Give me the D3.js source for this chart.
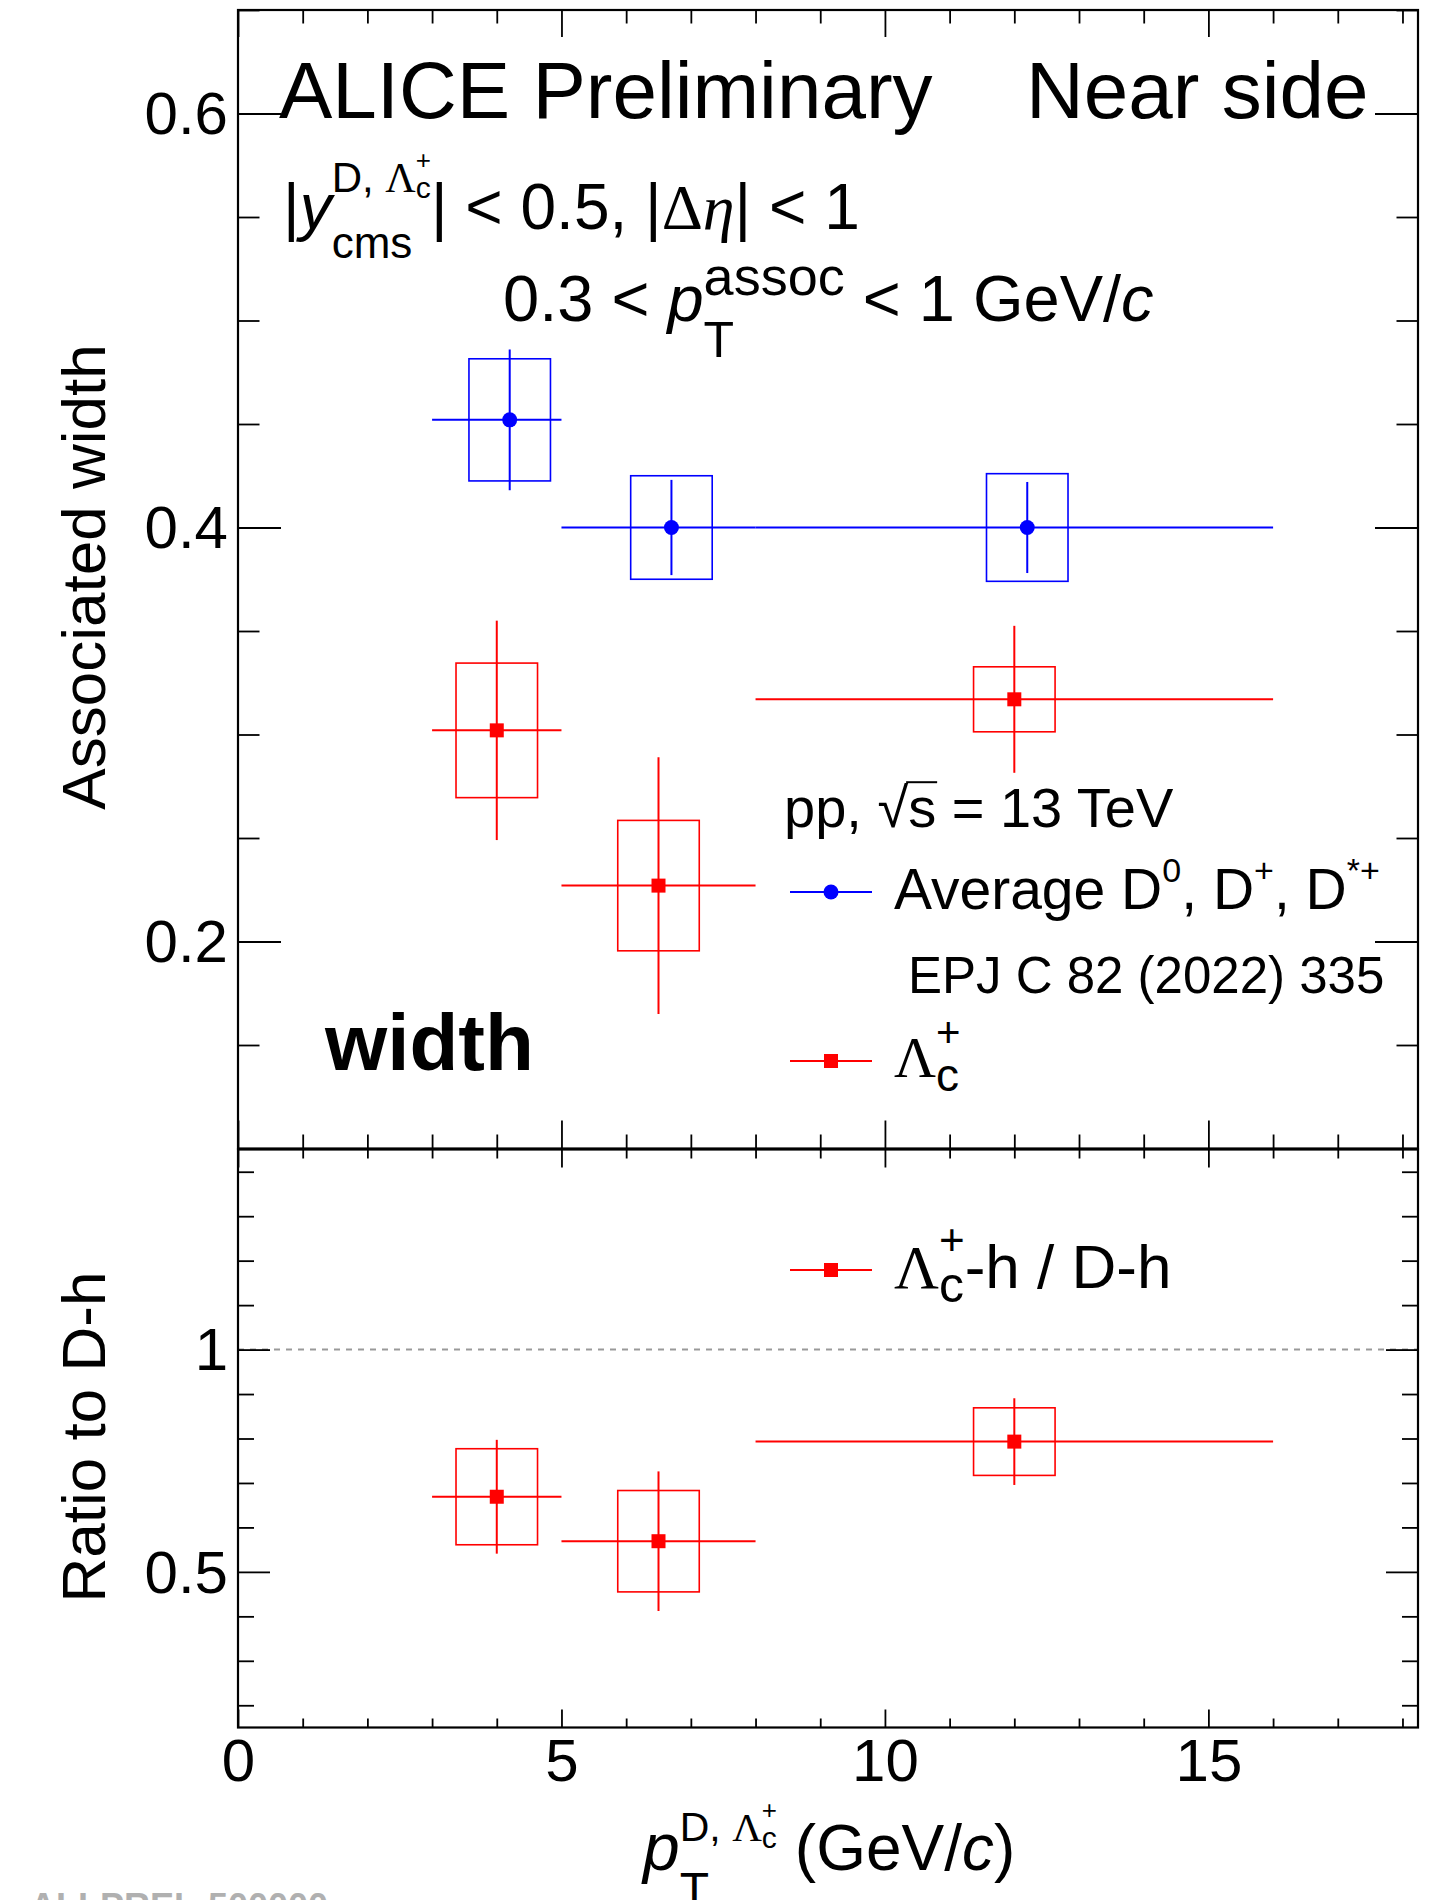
<!DOCTYPE html>
<html>
<head>
<meta charset="utf-8">
<script src="https://cdn.jsdelivr.net/npm/d3@7"></script>
<style>
  body { margin: 0; background: #fff; }
  svg text { white-space: pre; }
</style>
</head>
<body>
<svg id="chart" width="1444" height="1900"></svg>
<script>
// pT bins (GeV/c)
const binLo = [3, 5, 8];
const binHi = [5, 8, 16];

// average D meson, near-side width
const dMesonX = [4.2, 6.7, 12.2];
const dMesonW = [0.452, 0.400, 0.400];
const dMesonStat = [0.034, 0.023, 0.022];
const dMesonSys = [0.0295, 0.025, 0.026];

// Lambda_c, near-side width
const lcX = [4.0, 6.5, 12.0];
const lcW = [0.302, 0.227, 0.317];
const lcStat = [0.053, 0.062, 0.0355];
const lcSys = [0.0325, 0.0315, 0.0157];

// ratio Lc-h / D-h
const ratioX = [4.0, 6.5, 12.0];
const ratioV = [0.669, 0.569, 0.793];
const ratioStat = [0.128, 0.157, 0.0975];
const ratioSys = [0.108, 0.114, 0.076];

const xTicks = [0, 5, 10, 15];
const yTopTicks = [0.2, 0.4, 0.6];
const yBotTicks = [0.5, 1];

const FONT = "'Liberation Sans', Arial, Helvetica, sans-serif";
const SERIF = "'Liberation Serif', 'Times New Roman', serif";
const BLUE = "#0000ff", RED = "#ff0000";
const boxHalf = 0.63; // half width of systematic boxes, in GeV/c

const svg = d3.select("#chart");

const x = d3.scaleLinear().domain([0, 18.24]).range([238, 1418]);
const yTop = d3.scaleLinear().domain([0.1, 0.65]).range([1148.5, 10]);
const yBot = d3.scaleLinear().domain([0.15, 1.45]).range([1727.5, 1149.5]);

const minorX = d3.range(0, 18.2, 1).filter(v => v % 5 !== 0);

function cleanAxis(g) {
  g.select(".domain").remove();
  g.selectAll("line").attr("stroke-width", 1.8);
  g.selectAll("text").attr("font-family", FONT).attr("font-size", 60).attr("fill", "#000");
}

function axes(y, yMajor, yMinor, t) {
  const [yb, yt] = y.range();
  // x ticks, top and bottom edge
  svg.append("g").attr("transform", `translate(0,${yt})`)
    .call(d3.axisTop(x).tickValues(xTicks).tickSize(-t.xTopMaj).tickFormat(""))
    .call(cleanAxis);
  svg.append("g").attr("transform", `translate(0,${yt})`)
    .call(d3.axisTop(x).tickValues(minorX).tickSize(-t.xTopMaj / 2).tickFormat(""))
    .call(cleanAxis);
  svg.append("g").attr("transform", `translate(0,${yb})`)
    .call(d3.axisBottom(x).tickValues(xTicks).tickSize(-t.xBotMaj).tickPadding(11)
      .tickFormat(t.xLabels ? d3.format("d") : ""))
    .call(cleanAxis);
  svg.append("g").attr("transform", `translate(0,${yb})`)
    .call(d3.axisBottom(x).tickValues(minorX).tickSize(-t.xBotMaj / 2).tickFormat(""))
    .call(cleanAxis);
  // y ticks, left and right
  svg.append("g").attr("transform", `translate(${x.range()[0]},0)`)
    .call(d3.axisLeft(y).tickValues(yMajor).tickSize(-t.yMaj).tickPadding(10).tickFormat(d3.format("~g")))
    .call(cleanAxis)
    .selectAll("text").attr("dy", "0.34em");
  svg.append("g").attr("transform", `translate(${x.range()[0]},0)`)
    .call(d3.axisLeft(y).tickValues(yMinor).tickSize(-t.yMaj / 2).tickFormat(""))
    .call(cleanAxis);
  svg.append("g").attr("transform", `translate(${x.range()[1]},0)`)
    .call(d3.axisRight(y).tickValues(yMajor).tickSize(-t.yMaj).tickFormat(""))
    .call(cleanAxis);
  svg.append("g").attr("transform", `translate(${x.range()[1]},0)`)
    .call(d3.axisRight(y).tickValues(yMinor).tickSize(-t.yMaj / 2).tickFormat(""))
    .call(cleanAxis);
  // frame
  svg.append("rect")
    .attr("x", x.range()[0]).attr("y", yt)
    .attr("width", x.range()[1] - x.range()[0]).attr("height", yb - yt)
    .attr("fill", "none").attr("stroke", "#000").attr("stroke-width", 2.2);
}

function points(y, xs, vs, stat, sys, color, marker) {
  const g = svg.append("g");
  const idx = d3.range(xs.length);
  // systematic boxes
  g.selectAll("rect.sys").data(idx).join("rect")
    .attr("x", i => x(xs[i] - boxHalf))
    .attr("width", i => x(xs[i] + boxHalf) - x(xs[i] - boxHalf))
    .attr("y", i => y(vs[i] + sys[i]))
    .attr("height", i => y(vs[i] - sys[i]) - y(vs[i] + sys[i]))
    .attr("fill", "none").attr("stroke", color).attr("stroke-width", 1.6);
  // horizontal bin width
  g.selectAll("line.h").data(idx).join("line")
    .attr("x1", i => x(binLo[i])).attr("x2", i => x(binHi[i]))
    .attr("y1", i => y(vs[i])).attr("y2", i => y(vs[i]))
    .attr("stroke", color).attr("stroke-width", 2);
  // statistical errors
  g.selectAll("line.v").data(idx).join("line")
    .attr("x1", i => x(xs[i])).attr("x2", i => x(xs[i]))
    .attr("y1", i => y(vs[i] + stat[i])).attr("y2", i => y(vs[i] - stat[i]))
    .attr("stroke", color).attr("stroke-width", 2);
  if (marker === "circle") {
    g.selectAll("circle").data(idx).join("circle")
      .attr("cx", i => x(xs[i])).attr("cy", i => y(vs[i])).attr("r", 7.5)
      .attr("fill", color);
  } else {
    g.selectAll("rect.m").data(idx).join("rect")
      .attr("x", i => x(xs[i]) - 7).attr("y", i => y(vs[i]) - 7)
      .attr("width", 14).attr("height", 14).attr("fill", color);
  }
}

// rich text: segments placed one after another, "stack" puts sub and sup at the same x
function rich(parent, x0, y0, segs) {
  let cx = x0;
  for (const s of segs) {
    if (s.stack) {
      const ws = s.stack.map(part => rich(parent, cx, y0, part));
      cx += Math.max(...ws);
      continue;
    }
    const t = parent.append("text")
      .attr("x", cx).attr("y", y0 + (s.dy || 0))
      .attr("font-family", s.serif ? SERIF : FONT)
      .attr("font-size", s.size)
      .attr("font-style", s.it ? "italic" : null)
      .attr("font-weight", s.bold ? "bold" : null)
      .attr("fill", "#000")
      .text(s.t);
    const w = t.node().getComputedTextLength();
    if (s.over) {
      parent.append("line")
        .attr("x1", cx - 2).attr("x2", cx + w + 1)
        .attr("y1", y0 + (s.dy || 0) - s.size * 0.8).attr("y2", y0 + (s.dy || 0) - s.size * 0.8)
        .attr("stroke", "#000").attr("stroke-width", 2);
    }
    cx += w;
  }
  return cx - x0;
}

// dashed line at ratio 1
svg.append("line")
  .attr("x1", x.range()[0]).attr("x2", x.range()[1])
  .attr("y1", yBot(1)).attr("y2", yBot(1))
  .attr("stroke", "#999").attr("stroke-width", 2).attr("stroke-dasharray", "6,6");

points(yTop, dMesonX, dMesonW, dMesonStat, dMesonSys, BLUE, "circle");
points(yTop, lcX, lcW, lcStat, lcSys, RED, "square");
points(yBot, ratioX, ratioV, ratioStat, ratioSys, RED, "square");

axes(yTop, yTopTicks, d3.range(0.15, 0.66, 0.05).filter(v => Math.abs(v * 5 - Math.round(v * 5)) > 1e-6),
  { xTopMaj: 27, xBotMaj: 28, yMaj: 43, xLabels: false });
axes(yBot, yBotTicks, d3.range(0.2, 1.45, 0.1).filter(v => Math.abs(v - 0.5) > 1e-6 && Math.abs(v - 1) > 1e-6),
  { xTopMaj: 18, xBotMaj: 18, yMaj: 32, xLabels: true });

const txt = svg.append("g");

// titles
txt.append("text").attr("x", 279).attr("y", 118)
  .attr("font-family", FONT).attr("font-size", 80).text("ALICE Preliminary");
txt.append("text").attr("x", 1026).attr("y", 118)
  .attr("font-family", FONT).attr("font-size", 80).text("Near side");

rich(txt, 283, 229, [
  { t: "|", size: 64 }, { t: "y", size: 64, it: true },
  { stack: [
    [ { t: "D, ", size: 42, dy: -37 }, { t: "Λ", size: 42, dy: -37, serif: true },
      { stack: [[{ t: "+", size: 26, dy: -60 }], [{ t: "c", size: 30, dy: -31 }]] } ],
    [ { t: "cms", size: 44, dy: 29 } ]
  ] },
  { t: "| < 0.5, |", size: 64 }, { t: "Δ", size: 64, serif: true }, { t: "η", size: 64, serif: true, it: true },
  { t: "| < 1", size: 64 }
]);

rich(txt, 503, 321, [
  { t: "0.3 < ", size: 65 }, { t: "p", size: 65, it: true },
  { stack: [[{ t: "assoc", size: 54, dy: -26 }], [{ t: "T", size: 50, dy: 36 }]] },
  { t: " < 1 GeV/", size: 65 }, { t: "c", size: 65, it: true }
]);

rich(txt, 784, 827, [
  { t: "pp, ", size: 56 }, { t: "√", size: 56 }, { t: "s", size: 56, over: true }, { t: " = 13 TeV", size: 56 }
]);

// legend
const legX1 = 790, legX2 = 872, legMid = 831;
svg.append("line").attr("x1", legX1).attr("x2", legX2).attr("y1", 892).attr("y2", 892)
  .attr("stroke", BLUE).attr("stroke-width", 2);
svg.append("circle").attr("cx", legMid).attr("cy", 892).attr("r", 7.5).attr("fill", BLUE);
rich(txt, 894, 909, [
  { t: "Average D", size: 57 }, { t: "0", size: 34, dy: -27 },
  { t: ", D", size: 57 }, { t: "+", size: 34, dy: -27 },
  { t: ", D", size: 57 }, { t: "*+", size: 34, dy: -27 }
]);
txt.append("text").attr("x", 908).attr("y", 993)
  .attr("font-family", FONT).attr("font-size", 51).text("EPJ C 82 (2022) 335");

svg.append("line").attr("x1", legX1).attr("x2", legX2).attr("y1", 1061).attr("y2", 1061)
  .attr("stroke", RED).attr("stroke-width", 2);
svg.append("rect").attr("x", legMid - 7).attr("y", 1054).attr("width", 14).attr("height", 14).attr("fill", RED);
rich(txt, 894, 1077, [
  { t: "Λ", size: 58, serif: true },
  { stack: [[{ t: "+", size: 42, dy: -30 }], [{ t: "c", size: 46, dy: 14 }]] }
]);

txt.append("text").attr("x", 325).attr("y", 1070)
  .attr("font-family", FONT).attr("font-size", 80).attr("font-weight", "bold").text("width");

svg.append("line").attr("x1", legX1).attr("x2", legX2).attr("y1", 1270).attr("y2", 1270)
  .attr("stroke", RED).attr("stroke-width", 2);
svg.append("rect").attr("x", legMid - 7).attr("y", 1263).attr("width", 14).attr("height", 14).attr("fill", RED);
rich(txt, 894, 1288, [
  { t: "Λ", size: 62, serif: true },
  { stack: [[{ t: "+", size: 44, dy: -33 }], [{ t: "c", size: 50, dy: 14 }]] },
  { t: "-h / D-h", size: 62 }
]);

// axis titles
txt.append("text").attr("transform", "translate(105,577) rotate(-90)")
  .attr("text-anchor", "middle").attr("font-family", FONT).attr("font-size", 62).text("Associated width");
txt.append("text").attr("transform", "translate(105,1437) rotate(-90)")
  .attr("text-anchor", "middle").attr("font-family", FONT).attr("font-size", 62).text("Ratio to D-h");

rich(txt, 643, 1870, [
  { t: "p", size: 66, it: true },
  { stack: [
    [ { t: "D, ", size: 41, dy: -29 }, { t: "Λ", size: 41, dy: -29, serif: true },
      { stack: [[{ t: "+", size: 26, dy: -51 }], [{ t: "c", size: 30, dy: -22 }]] } ],
    [ { t: "T", size: 48, dy: 36 } ]
  ] },
  { t: " (GeV/", size: 64 }, { t: "c", size: 64, it: true }, { t: ")", size: 64 }
]);

// preliminary figure id, cut at the page edge
txt.append("text").attr("x", 30).attr("y", 1919)
  .attr("font-family", FONT).attr("font-size", 36).attr("font-weight", "bold")
  .attr("fill", "#b0b0b0").text("ALI-PREL-500000");
</script>
</body>
</html>
